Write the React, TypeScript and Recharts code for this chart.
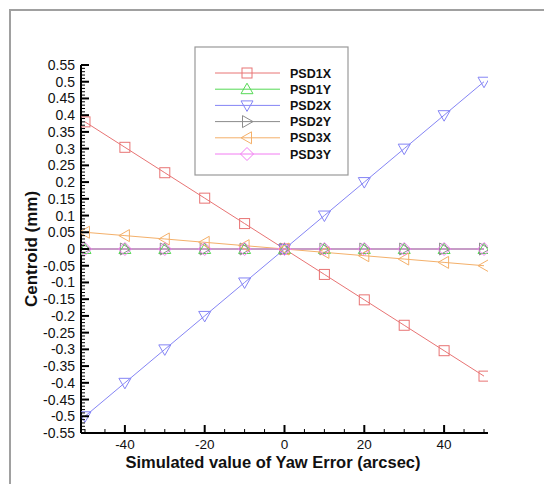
import React from 'react';
import { LineChart, Line, XAxis, YAxis } from 'recharts';

const xValues = [-50, -40, -30, -20, -10, 0, 10, 20, 30, 40, 50];
const psd1x = [0.38, 0.304, 0.228, 0.152, 0.076, 0, -0.076, -0.152, -0.228, -0.304, -0.38];
const psd1y = [0, 0, 0, 0, 0, 0, 0, 0, 0, 0, 0];
const psd2x = [-0.5, -0.4, -0.3, -0.2, -0.1, 0, 0.1, 0.2, 0.3, 0.4, 0.5];
const psd2y = [0, 0, 0, 0, 0, 0, 0, 0, 0, 0, 0];
const psd3x = [0.05, 0.04, 0.03, 0.02, 0.01, 0, -0.01, -0.02, -0.03, -0.04, -0.05];
const psd3y = [0, 0, 0, 0, 0, 0, 0, 0, 0, 0, 0];

const xMajorTicks = [-40, -20, 0, 20, 40];
const xMinorTicks = [-50, -45, -35, -30, -25, -15, -10, -5, 5, 10, 15, 25, 30, 35, 45, 50];
const yMajorTicks = [0.55, 0.5, 0.45, 0.4, 0.35, 0.3, 0.25, 0.2, 0.15, 0.1, 0.05, 0, -0.05, -0.1, -0.15, -0.2, -0.25, -0.3, -0.35, -0.4, -0.45, -0.5, -0.55];
const yMinorStep = 0.01;

const xTitle = 'Simulated value of Yaw Error (arcsec)';
const yTitle = 'Centroid (mm)';

const series = [
  { key: 'PSD1X', values: psd1x, color: '#e87474', shape: 'square' },
  { key: 'PSD1Y', values: psd1y, color: '#55d955', shape: 'up' },
  { key: 'PSD2X', values: psd2x, color: '#8585f5', shape: 'down' },
  { key: 'PSD2Y', values: psd2y, color: '#8c8c8c', shape: 'right' },
  { key: 'PSD3X', values: psd3x, color: '#f4b06a', shape: 'left' },
  { key: 'PSD3Y', values: psd3y, color: '#f27df2', shape: 'diamond' },
];

const data = xValues.map((x, i) => {
  const row: any = { x };
  series.forEach((s) => { row[s.key] = s.values[i]; });
  return row;
});

const yAllTicks: number[] = [];
for (let k = -55; k <= 55; k++) yAllTicks.push(Number((k * yMinorStep).toFixed(2)));
const xAllTicks = [...xMinorTicks, ...xMajorTicks].sort((a, b) => a - b);

const FONT = '"Liberation Sans", Arial, sans-serif';

function markerShape(shape: string, cx: number, cy: number, color: string, key?: any) {
  const common = { fill: 'none', stroke: color, strokeWidth: 1 };
  switch (shape) {
    case 'square':
      return <rect key={key} x={cx - 5} y={cy - 5} width={10} height={10} {...common} />;
    case 'up':
      return <polygon key={key} points={`${cx},${cy - 6} ${cx + 6},${cy + 4.5} ${cx - 6},${cy + 4.5}`} {...common} />;
    case 'down':
      return <polygon key={key} points={`${cx},${cy + 6} ${cx + 6},${cy - 4.5} ${cx - 6},${cy - 4.5}`} {...common} />;
    case 'right':
      return <polygon key={key} points={`${cx + 6},${cy} ${cx - 4.5},${cy - 6} ${cx - 4.5},${cy + 6}`} {...common} />;
    case 'left':
      return <polygon key={key} points={`${cx - 6},${cy} ${cx + 4.5},${cy - 6} ${cx + 4.5},${cy + 6}`} {...common} />;
    default:
      return <polygon key={key} points={`${cx},${cy - 6.5} ${cx + 6.5},${cy} ${cx},${cy + 6.5} ${cx - 6.5},${cy}`} {...common} />;
  }
}

const isIn = (arr: number[], v: number) => arr.some((m) => Math.abs(m - v) < 1e-9);

const YTick = (props: any) => {
  const { x, y, payload } = props;
  const v = payload.value;
  const major = isIn(yMajorTicks, v);
  return (
    <g>
      <line x1={x} x2={x + (major ? 8 : 4)} y1={y} y2={y} stroke="#000" strokeWidth={major ? 2 : 1} />
      {major && (
        <text x={x - 6} y={y} dy="0.36em" textAnchor="end" fontSize={14} fontFamily={FONT} fill="#111">
          {String(Number(v.toFixed(2)))}
        </text>
      )}
    </g>
  );
};

const XTick = (props: any) => {
  const { x, y, payload } = props;
  const v = payload.value;
  const major = isIn(xMajorTicks, v);
  return (
    <g>
      <line x1={x} x2={x} y1={y} y2={y - (major ? 8 : 4)} stroke="#000" strokeWidth={major ? 2 : 1} />
      {major && (
        <text x={x} y={y + 16} textAnchor="middle" fontSize={13.5} fontFamily={FONT} fill="#111">
          {String(v)}
        </text>
      )}
    </g>
  );
};

const LegendBox = () => (
  <svg width={156} height={131} style={{ position: 'absolute', left: 194, top: 46 }}>
    <rect x={1} y={1} width={153} height={128} fill="#fff" stroke="#999" strokeWidth={1.2} />
    {series.map((s, i) => {
      const cy = 27 + i * 16.2;
      return (
        <g key={s.key}>
          <line x1={21} x2={86} y1={cy} y2={cy} stroke={s.color} strokeWidth={1} />
          {markerShape(s.shape, 53, cy, s.color)}
          <text x={96} y={cy} dy="0.36em" fontSize={12.5} fontWeight="bold" fontFamily={FONT} fill="#111">
            {s.key}
          </text>
        </g>
      );
    })}
  </svg>
);

export default function App() {
  return (
    <div style={{ position: 'absolute', left: 0, top: 0, width: 544, height: 484, background: '#fff', fontFamily: FONT }}>
      <div style={{ position: 'absolute', left: 9, top: 9, width: 535, height: 475, borderLeft: '2px solid #a0a0a0', borderTop: '2px solid #a0a0a0' }} />
      <LineChart width={544} height={484} data={data} margin={{ top: 65, right: 56, bottom: 0, left: 0 }}>
        <XAxis
          dataKey="x"
          type="number"
          domain={[-51, 51]}
          ticks={xAllTicks}
          interval={0}
          tickSize={0}
          tickMargin={0}
          tickLine={false}
          tick={<XTick />}
          height={51}
          axisLine={{ stroke: '#000', strokeWidth: 2 }}
          allowDataOverflow
        />
        <YAxis
          type="number"
          domain={[-0.55, 0.55]}
          ticks={yAllTicks}
          interval={0}
          tickSize={0}
          tickMargin={0}
          tickLine={false}
          tick={<YTick />}
          width={81}
          axisLine={{ stroke: '#000', strokeWidth: 2 }}
          allowDataOverflow
        />
        {series.map((s) => (
          <Line
            key={s.key}
            dataKey={s.key}
            stroke={s.color}
            strokeWidth={1}
            isAnimationActive={false}
            dot={(p: any) => markerShape(s.shape, p.cx, p.cy, s.color, `${s.key}-${p.index}`)}
            activeDot={false}
          />
        ))}
        <text x={273} y={468} textAnchor="middle" fontSize={16.5} fontWeight="bold" fontFamily={FONT} fill="#111">
          {xTitle}
        </text>
        <text x={31} y={249} textAnchor="middle" dominantBaseline="central" transform="rotate(-90 31 249)" fontSize={17} fontWeight="bold" fontFamily={FONT} fill="#111">
          {yTitle}
        </text>
      </LineChart>
      <LegendBox />
    </div>
  );
}
